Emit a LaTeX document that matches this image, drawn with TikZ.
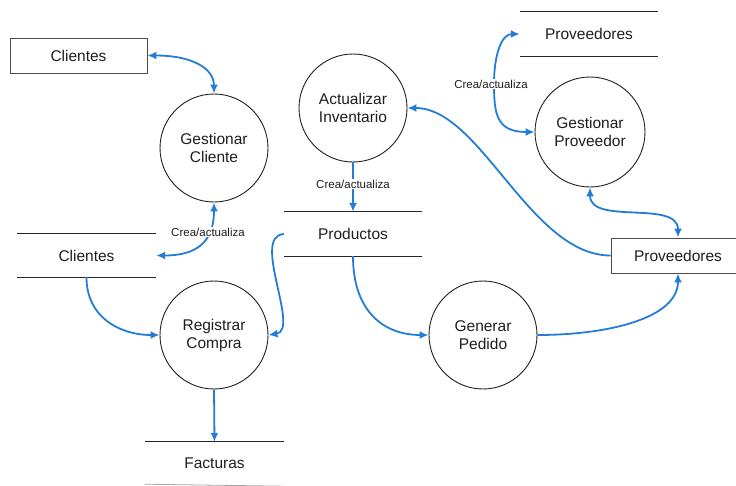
\documentclass[tikz,border=0pt]{standalone}
\usepackage{fontspec}
\setmainfont{Liberation Sans}
\usetikzlibrary{arrows.meta}
\definecolor{flowblue}{RGB}{35,125,215}
\definecolor{ink}{RGB}{30,30,30}
\tikzset{
  proc/.style={circle, draw=ink, line width=0.9pt, minimum size=108pt, inner sep=0pt, align=center, text=ink, font=\fontsize{15.5}{18}\selectfont},
  ent/.style={rectangle, draw=black!70, line width=0.9pt, minimum height=35pt, inner sep=0pt, text=ink, font=\fontsize{15.5}{18}\selectfont},
  store/.style={minimum height=43pt, minimum width=138pt, inner sep=0pt, text=ink, font=\fontsize{15.5}{18}\selectfont},
  storeline/.style={draw=black!85, line width=1pt},
  lbl/.style={fill=white, inner sep=1pt, text=ink, font=\fontsize{11.5}{13}\selectfont},
  flow/.style={draw=flowblue, line width=1.8pt, -{Latex[length=9pt,width=8pt]}},
  flow2/.style={draw=flowblue, line width=1.8pt, {Latex[length=9pt,width=8pt]}-{Latex[length=9pt,width=8pt]}}
}
\begin{document}
\begin{tikzpicture}[x=1pt,y=-1pt]
\useasboundingbox (0,0) rectangle (736,485);
% nodes
\node[ent, minimum width=137pt] (c1) at (78.5,55.5) {Clientes};
\node[proc] (gc) at (214,148) {Gestionar\\Cliente};
\node[store, minimum width=139pt] (cs) at (86.5,255.5) {Clientes};
\node[proc] (ai) at (353,108) {Actualizar\\Inventario};
\node[store, minimum height=44pt] (prod) at (353,234) {Productos};
\node[store, minimum height=44pt] (pst) at (589,34) {Proveedores};
\node[proc, minimum size=110pt] (gprov) at (590,132) {Gestionar\\Proveedor};
\node[ent, minimum width=134pt] (prov) at (678,255.5) {Proveedores};
\node[proc] (rc) at (214,335) {Registrar\\Compra};
\node[proc] (gped) at (483,335) {Generar\\Pedido};
\node[store, minimum width=139pt] (fact) at (214.5,463.5) {Facturas};
% store lines
\foreach \s in {cs,prod,pst}{
  \draw[storeline] (\s.north west) -- (\s.north east);
  \draw[storeline] (\s.south west) -- (\s.south east);
}
\draw[storeline] (fact.north west) -- (fact.north east);
\draw[draw=black!35, line width=0.8pt] (fact.south west) ++(0,-1) -- ([yshift=-1pt]fact.south east);
% connectors
\draw[flow2] (c1.east) .. controls +(45,0) and +(0,-25) .. (gc.north);
\draw[flow2] (cs.east) .. controls +(40,0) and +(0,40) .. (gc.south);
\node[lbl] (l1) at (208,232) {Crea/actualiza};
\draw[flow] (ai.south) -- (prod.north);
\node[lbl] (l2) at (353,184) {Crea/actualiza};
\coordinate (m1) at (494,84);
\draw[flow2] (gprov.west) .. controls +(-38,0) and +(0,30) .. (m1)
   .. controls +(0,-30) and +(-18,0) .. (pst.west);
\node[lbl] (l3) at (491,84) {Crea/actualiza};
\draw[flow2] (gprov.south) .. controls +(0,38) and +(0,-38) .. (prov.north);
\draw[flow] (prov.west) .. controls +(-80,0) and +(73,0) .. (ai.east);
\draw[flow] (cs.south) .. controls +(0,40) and +(-40,0) .. (rc.west);
\draw[flow] (prod.west) .. controls +(-33,2) and +(32,-5) .. (rc.east);
\draw[flow] (prod.south) .. controls +(0,55) and +(-45,0) .. (gped.west);
\draw[flow] (gped.east) .. controls +(70,0) and +(0,45) .. (prov.south);
\draw[flow] (rc.south) -- (fact.north);
\end{tikzpicture}
\end{document}
